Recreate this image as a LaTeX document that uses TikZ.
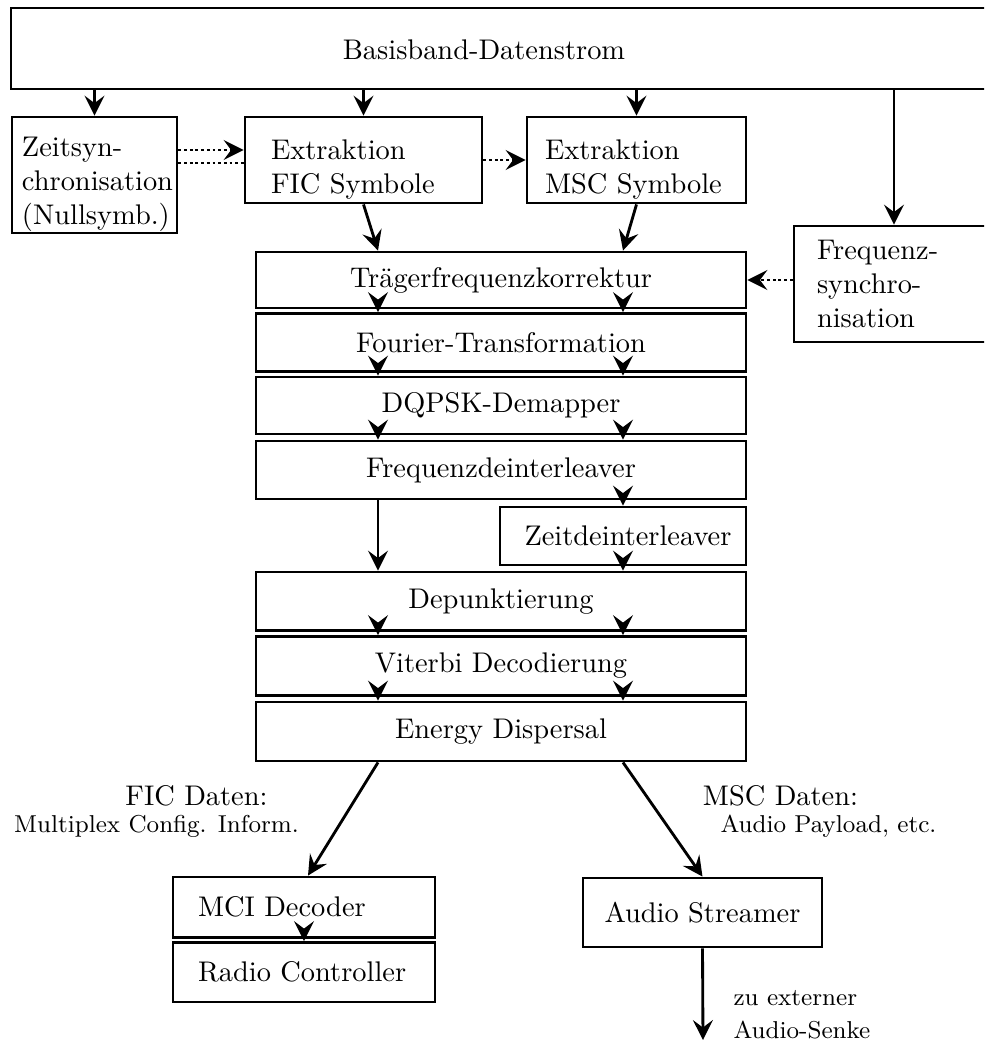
\documentclass[tikz,border=0pt]{standalone}
\usepackage{fontspec}
\usetikzlibrary{arrows.meta}
\newcommand\pxu{0.352pt}
\newcommand\topstrut{\rule{0pt}{13.5pt}}
\begin{document}
\begin{tikzpicture}[x=0.352pt,y=-0.352pt,
  blk/.style={draw, line width=1pt, rectangle, inner sep=0pt},
  arr/.style={line width=1pt, -{Stealth[length=7pt,width=7pt,inset=2.6pt]}},
  dotarr/.style={arr, densely dotted},
  dotln/.style={line width=1pt, densely dotted},
  small/.style={font=\fontsize{8.6}{10.3}\selectfont}]
\useasboundingbox (0,0) rectangle (984,1042);
\clip (0,0) rectangle (984,1042);

% input stream
\node[blk, minimum width=999*\pxu, minimum height=81*\pxu] (bb) at (510.5,48.5) {};
\node (bbt) at (484,50) {Basisband-Datenstrom};

% synchronisation and symbol extraction
\node[blk, minimum width=165*\pxu, minimum height=116*\pxu, text width=145*\pxu, align=left] (zs) at (94.5,175) {\topstrut Zeitsyn-\\chronisation\\(Nullsymb.)};
\node[blk, minimum width=237*\pxu, minimum height=86*\pxu, text width=185*\pxu, align=left] (fic) at (363.5,160) {\topstrut Extraktion\\FIC Symbole};
\node[blk, minimum width=219*\pxu, minimum height=86*\pxu, text width=183*\pxu, align=left] (msc) at (636.5,160) {\topstrut Extraktion\\MSC Symbole};
\node[blk, minimum width=200*\pxu, minimum height=116*\pxu, text width=154*\pxu, align=left] (fs) at (894,284) {Frequenz-\\synchro-\\nisation};

% processing chain
\node[blk, minimum width=490*\pxu, minimum height=56*\pxu] (tr) at (501,280) {Trägerfrequenzkorrektur};
\node[blk, minimum width=490*\pxu, minimum height=58*\pxu] (ft) at (501,342.5) {Fourier-Transformation};
\node[blk, minimum width=490*\pxu, minimum height=57*\pxu] (dq) at (501,405.5) {DQPSK-Demapper};
\node[blk, minimum width=490*\pxu, minimum height=58*\pxu] (fd) at (501,470) {Frequenzdeinterleaver};
\node[blk, minimum width=246*\pxu, minimum height=58*\pxu] (zd) at (623,536) {\hspace*{3.5pt}Zeitdeinterleaver};
\node[blk, minimum width=490*\pxu, minimum height=58.5*\pxu] (dp) at (501,601.25) {Depunktierung};
\node[blk, minimum width=490*\pxu, minimum height=59*\pxu] (vd) at (501,666) {Viterbi Decodierung};
\node[blk, minimum width=490*\pxu, minimum height=59*\pxu] (ed) at (501,731.5) {Energy Dispersal};

% outputs
\node[blk, minimum width=262*\pxu, minimum height=60.5*\pxu, text width=212*\pxu, align=left] (mci) at (304,907.25) {MCI Decoder};
\node[blk, minimum width=262*\pxu, minimum height=59.5*\pxu, text width=212*\pxu, align=left] (rc) at (304,972.25) {Radio Controller};
\node[blk, minimum width=239*\pxu, minimum height=69*\pxu] (as) at (702.5,912.5) {Audio Streamer};

% columns of the two data paths
\coordinate (cL) at (378,0);
\coordinate (cR) at (623,0);
\coordinate (cM) at (308,0);
\coordinate (out) at (703,1040);

% distribution of the baseband stream
\draw[arr] (zs.north |- bb.south) -- (zs.north);
\draw[arr] (fic.north |- bb.south) -- (fic.north);
\draw[arr] (msc.north |- bb.south) -- (msc.north);
\draw[arr] (fs.north |- bb.south) -- (fs.north);

% control signals
\draw[dotarr] ([yshift=8.8pt]zs.east) -- ([yshift=8.8pt]zs.east -| fic.west);
\draw[dotln] ([yshift=4.2pt]zs.east) -- ([yshift=4.2pt]zs.east -| fic.west);
\draw[dotarr] (fic.east) -- (msc.west);
\draw[dotarr] (fs.west |- tr.east) -- (tr.east);

% data paths
\draw[arr] (fic.south) -- (tr.north -| cL);
\draw[arr] (msc.south) -- (tr.north -| cR);
\foreach \a/\b in {tr/ft, ft/dq, dq/fd, dp/vd, vd/ed} {
  \draw[arr] (\a.south -| cL) -- (\b.north -| cL);
  \draw[arr] (\a.south -| cR) -- (\b.north -| cR);
}
\draw[arr] (fd.south -| cL) -- (dp.north -| cL);
\draw[arr] (fd.south -| cR) -- (zd.north -| cR);
\draw[arr] (zd.south -| cR) -- (dp.north -| cR);
\draw[arr] (ed.south -| cL) -- (mci.north -| cM);
\draw[arr] (ed.south -| cR) -- (as.north);
\draw[arr] (mci.south) -- (rc.north);
\draw[arr] (as.south) -- (out);

% labels
\node (ficl) at (196.5,796) {FIC Daten:};
\node[small] (ficd) at (156.5,826) {Multiplex Config. Inform.};
\node (mscl) at (780.5,796) {MSC Daten:};
\node[small] (mscd) at (828.5,826) {Audio Payload, etc.};
\node[small, anchor=west, inner sep=0pt] (z1) at (733,998) {zu externer};
\node[small, anchor=west, inner sep=0pt] (z2) at (733,1030) {Audio-Senke};
\end{tikzpicture}
\end{document}
